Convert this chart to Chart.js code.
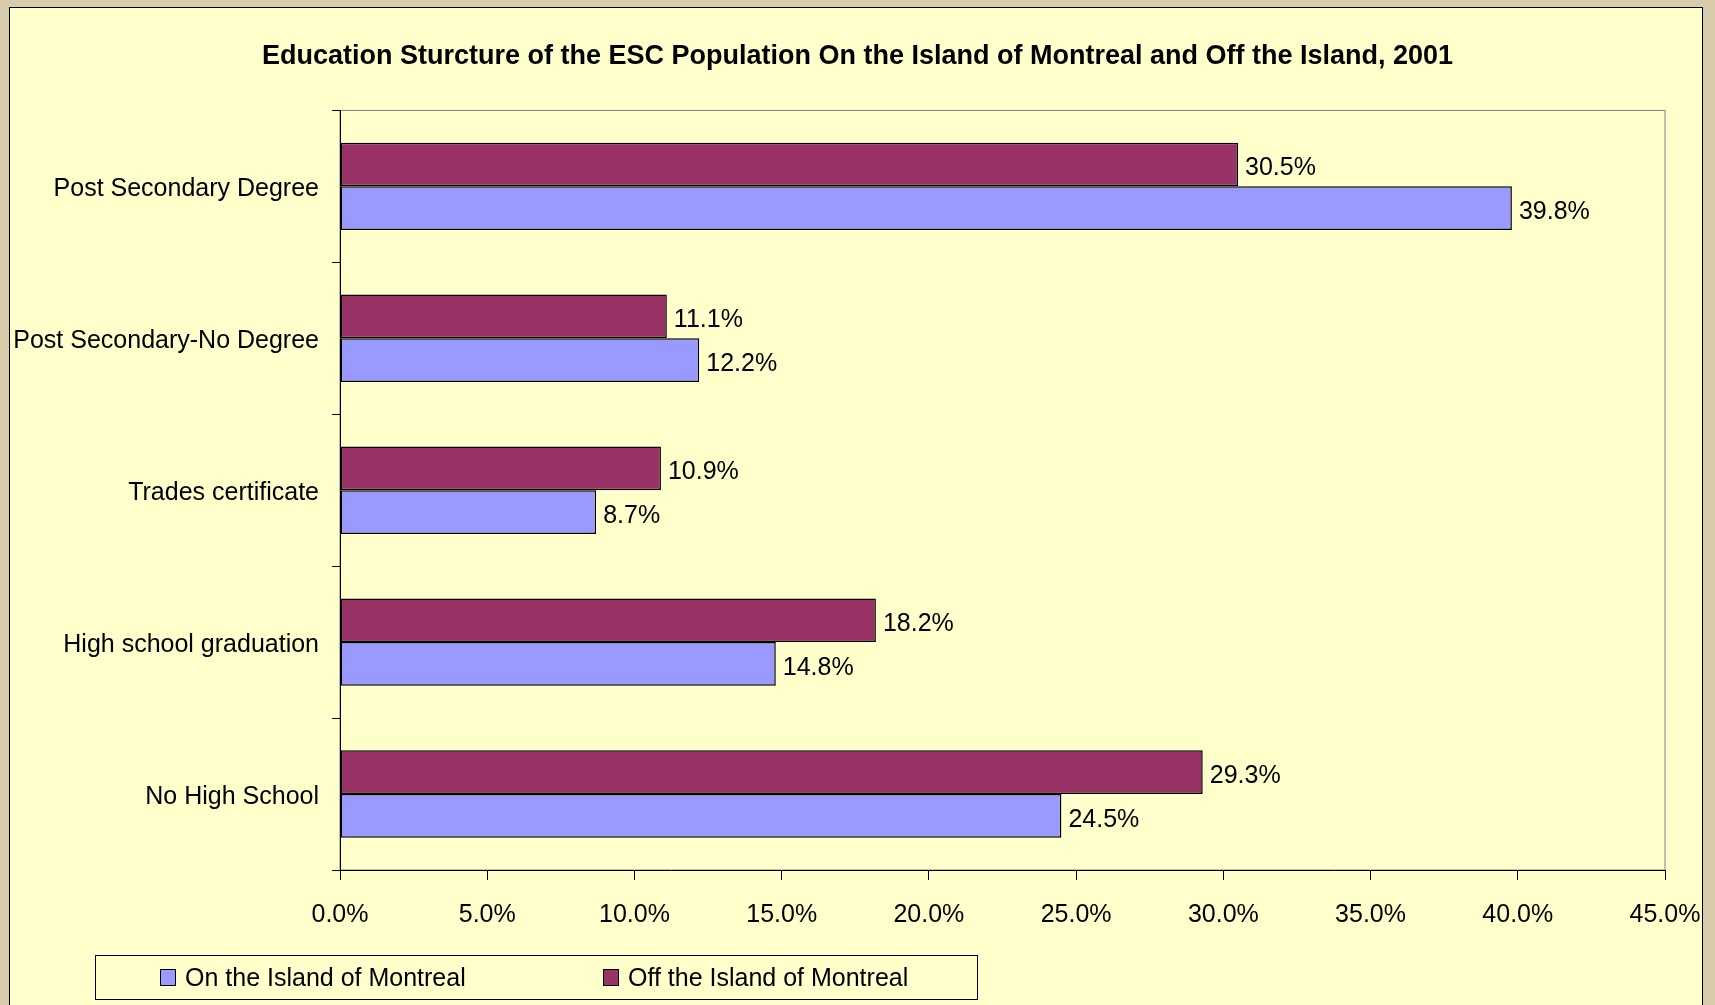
<!DOCTYPE html>
<html>
<head>
<meta charset="utf-8">
<script src="https://cdn.jsdelivr.net/npm/chart.js@4/dist/chart.umd.min.js"></script>
<style>
  html, body { margin: 0; padding: 0; background: #d8ccaa; }
  #wrap { width: 1715px; height: 1005px; }
</style>
</head>
<body>
<div id="wrap"><canvas id="education-chart" width="1715" height="1005"></canvas></div>
<script>
/* Chart data */
let categories = ['Post Secondary Degree', 'Post Secondary-No Degree', 'Trades certificate', 'High school graduation', 'No High School']
let offIsland = [30.5, 11.1, 10.9, 18.2, 29.3]
let onIsland = [39.8, 12.2, 8.7, 14.8, 24.5]
let xTicks = [0, 5, 10, 15, 20, 25, 30, 35, 40, 45]

let fontFamily = '"Liberation Sans", Arial, sans-serif'

// paints the beige page, the yellow chart box and the grey plot frame
let backgroundPlugin = {
    id: 'background',
    beforeDraw: function(chart) {
        let ctx = chart.ctx
        let area = chart.chartArea
        ctx.save()
        ctx.fillStyle = '#d8ccaa'
        ctx.fillRect(0, 0, chart.width, chart.height)
        ctx.fillStyle = '#ffffcc'
        ctx.fillRect(9, 7, 1693, 1010)
        ctx.strokeStyle = '#000000'
        ctx.lineWidth = 1
        ctx.strokeRect(9.5, 7.5, 1693, 1010)
        // grey frame round the plot, the axes draw black over left and bottom
        ctx.strokeStyle = '#808080'
        ctx.strokeRect(area.left, area.top, area.right - area.left, area.bottom - area.top)
        ctx.restore()
    }
}

// value labels to the right of every bar
let valueLabelPlugin = {
    id: 'valueLabels',
    afterDatasetsDraw: function(chart) {
        let ctx = chart.ctx
        ctx.save()
        ctx.font = '25px ' + fontFamily
        ctx.fillStyle = '#000000'
        ctx.textAlign = 'left'
        ctx.textBaseline = 'middle'
        chart.data.datasets.forEach(function(dataset, i) {
            let meta = chart.getDatasetMeta(i)
            meta.data.forEach(function(bar, j) {
                ctx.fillText(dataset.data[j].toFixed(1) + '%', bar.x + 7, bar.y + 4)
            })
        })
        ctx.restore()
    }
}

// boxed legend at the bottom left, "On" listed before "Off"
let boxLegendPlugin = {
    id: 'boxLegend',
    afterDraw: function(chart) {
        let ctx = chart.ctx
        let items = chart.data.datasets.slice().reverse()
        let itemX = [160, 603]
        ctx.save()
        ctx.strokeStyle = '#000000'
        ctx.lineWidth = 1
        ctx.strokeRect(95.5, 955.5, 882, 44)
        ctx.font = '25px ' + fontFamily
        ctx.textAlign = 'left'
        ctx.textBaseline = 'middle'
        items.forEach(function(dataset, i) {
            ctx.fillStyle = dataset.backgroundColor
            ctx.fillRect(itemX[i], 969, 15, 16)
            ctx.strokeRect(itemX[i] + 0.5, 969.5, 15, 16)
            ctx.fillStyle = '#000000'
            ctx.fillText(dataset.label, itemX[i] + 25, 979)
        })
        ctx.restore()
    }
}

let chartCanvas = document.querySelector('#education-chart')
let ctx = chartCanvas.getContext('2d')

let educationChart = new Chart(ctx, {
    type: 'bar',
    data: {
        labels: categories,
        datasets: [
            {
                label: 'Off the Island of Montreal',
                data: offIsland,
                backgroundColor: '#993366',
                borderColor: '#000000',
                borderWidth: 1.5,
                borderSkipped: false
            },
            {
                label: 'On the Island of Montreal',
                data: onIsland,
                backgroundColor: '#9999ff',
                borderColor: '#000000',
                borderWidth: 1.5,
                borderSkipped: false
            }
        ]
    },
    options: {
        indexAxis: 'y',
        responsive: false,
        animation: false,
        devicePixelRatio: 1,
        categoryPercentage: 0.575,
        barPercentage: 1.0,
        layout: {
            padding: 0
        },
        plugins: {
            legend: { display: false },
            tooltip: { enabled: false },
            title: {
                display: true,
                text: 'Education Sturcture of the ESC Population On the Island of Montreal and Off the Island, 2001',
                color: '#000000',
                font: { family: fontFamily, size: 27, weight: 'bold', lineHeight: 1.2 },
                padding: { top: 40, bottom: 38 }
            }
        },
        scales: {
            x: {
                type: 'linear',
                min: 0,
                max: 45,
                afterBuildTicks: function(scale) {
                    scale.ticks = xTicks.map(function(v) { return { value: v } })
                },
                afterFit: function(scale) {
                    scale.height = 135
                    // room on the right so the plot ends where the reference does
                    scale.paddingRight = 50
                },
                grid: {
                    drawOnChartArea: false,
                    drawTicks: true,
                    tickLength: 10,
                    color: '#000000'
                },
                border: { color: '#000000', width: 1 },
                ticks: {
                    autoSkip: false,
                    maxRotation: 0,
                    padding: 20,
                    color: '#000000',
                    font: { family: fontFamily, size: 25 },
                    callback: function(value) { return value.toFixed(1) + '%' }
                }
            },
            y: {
                type: 'category',
                offset: true,
                afterFit: function(scale) {
                    scale.width = 340
                },
                grid: {
                    offset: true,
                    drawOnChartArea: false,
                    drawTicks: true,
                    tickLength: 8,
                    color: '#000000'
                },
                border: { color: '#000000', width: 1 },
                ticks: {
                    padding: 13,
                    labelOffset: 3,
                    color: '#000000',
                    font: { family: fontFamily, size: 25 }
                }
            }
        }
    },
    plugins: [backgroundPlugin, valueLabelPlugin, boxLegendPlugin]
})
</script>
</body>
</html>
